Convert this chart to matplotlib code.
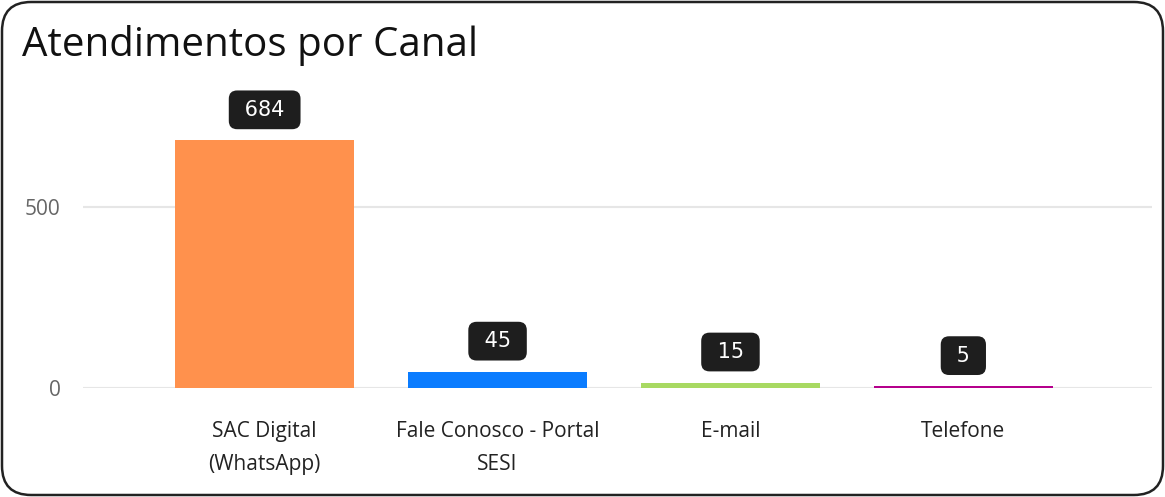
import matplotlib.pyplot as plt
from matplotlib.patches import FancyBboxPatch

canais = ["SAC Digital\n(WhatsApp)", "Fale Conosco - Portal\nSESI", "E-mail", "Telefone"]
valores = [684, 45, 15, 5]
cores = ["#FF914D", "#0A7CFF", "#A8D962", "#B5008C"]
yticks = [0, 500]

plt.rcParams['font.family'] = ['Open Sans', 'DejaVu Sans']

W, H = 1165, 497
fig = plt.figure(figsize=(W / 100, H / 100), dpi=100)

# rounded frame around the card
fig.patches.append(FancyBboxPatch((2 / W, 2 / H), 1 - 4 / W, 1 - 4 / H,
                                  boxstyle="round,pad=0,rounding_size=0.025",
                                  transform=fig.transFigure, fill=False,
                                  edgecolor="#222222", linewidth=1.8,
                                  mutation_aspect=W / H))

# axes area: x 83..1152 px, y 388 (zero) .. 85 px
ax = fig.add_axes([83 / W, (H - 388) / H, (1152 - 83) / W, (388 - 85) / H])
x = range(len(valores))
ax.bar(x, valores, width=0.77, color=cores, zorder=3)
ax.set_xlim(-0.78, 3.81)
ax.set_ylim(0, 837)

ax.set_yticks(yticks)
ax.set_yticklabels([str(v) for v in yticks], fontsize=15, color="#666666")
ax.yaxis.grid(True, color="#E6E6E6", linewidth=1.5, zorder=0)
ax.set_xticks(list(x))
ax.set_xticklabels(canais, fontsize=15, color="#222222", linespacing=1.75)
ax.tick_params(axis="both", length=0)
ax.tick_params(axis="x", pad=24)
ax.tick_params(axis="y", pad=16)
for s in ax.spines.values():
    s.set_visible(False)

for i, v in enumerate(valores):
    ax.annotate(" %d " % v, (i, v), xytext=(0, 22), textcoords="offset points",
                ha="center", va="center", fontsize=15, color="white",
                family=["DejaVu Sans"],
                bbox=dict(boxstyle="round,pad=0.45,rounding_size=0.4",
                          fc="#1E1E1E", ec="none"))

fig.text(22 / W, 1 - 46 / H, "Atendimentos por Canal", fontsize=29,
         color="#111111", va="center", ha="left")

fig.savefig("out.png", dpi=100)
